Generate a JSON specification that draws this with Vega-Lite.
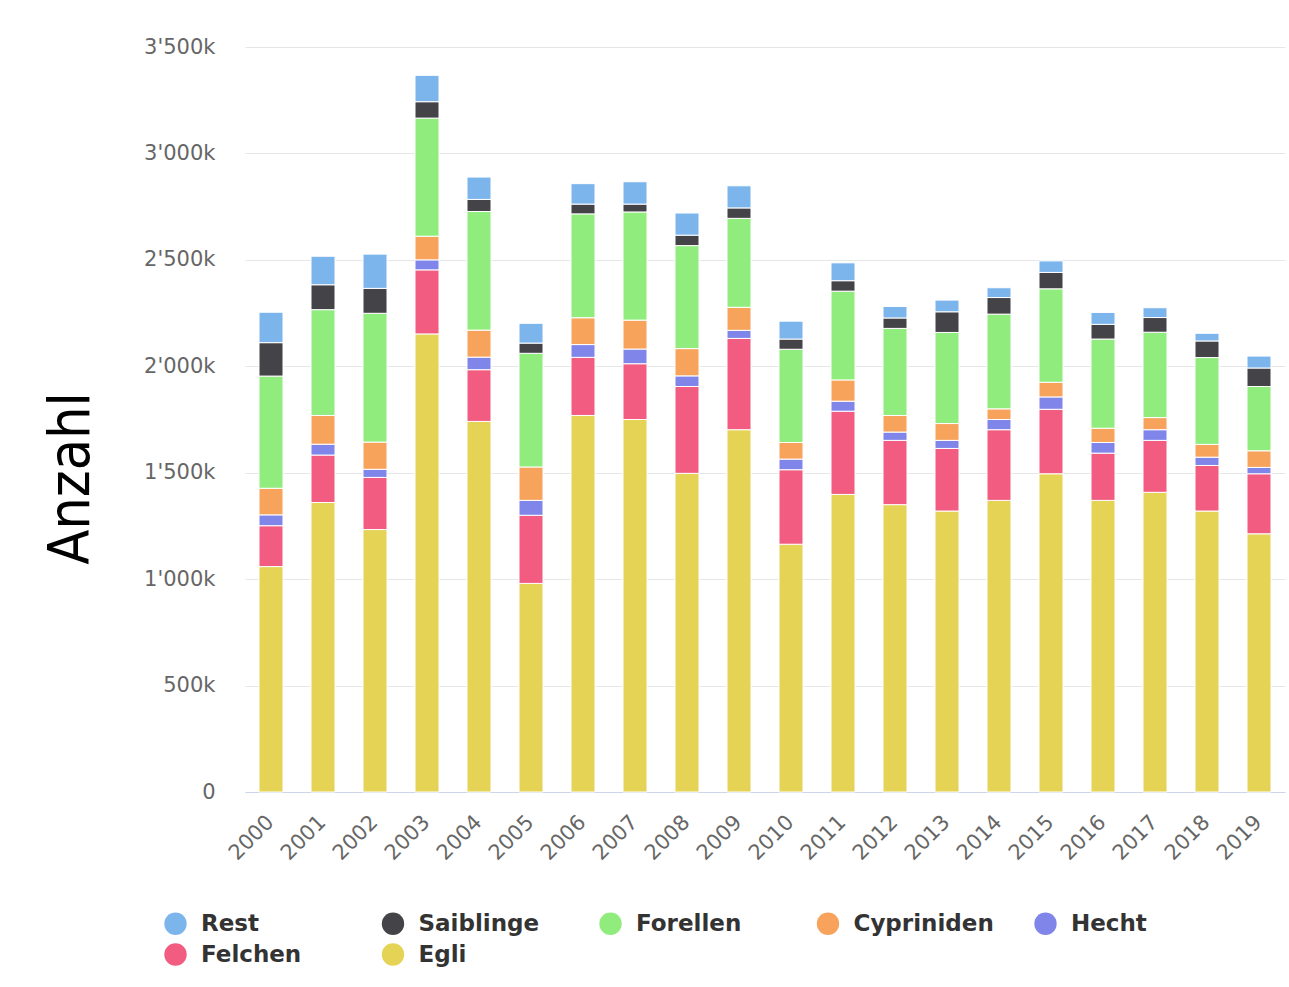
{
  "$schema": "https://vega.github.io/schema/vega-lite/v6.json",
  "width": 1040,
  "height": 745,
  "autosize": "none",
  "padding": {"left": 245, "top": 47, "right": 4, "bottom": 195},
  "background": "white",
  "config": {"view": {"stroke": null}},
  "data": {"values": [
    {"jahr":"2000","art":"Egli","anzahl":1059000},{"jahr":"2000","art":"Felchen","anzahl":192000},{"jahr":"2000","art":"Hecht","anzahl":51000},{"jahr":"2000","art":"Cypriniden","anzahl":125000},{"jahr":"2000","art":"Forellen","anzahl":527000},{"jahr":"2000","art":"Saiblinge","anzahl":157000},{"jahr":"2000","art":"Rest","anzahl":143000},
    {"jahr":"2001","art":"Egli","anzahl":1360000},{"jahr":"2001","art":"Felchen","anzahl":223000},{"jahr":"2001","art":"Hecht","anzahl":51000},{"jahr":"2001","art":"Cypriniden","anzahl":135000},{"jahr":"2001","art":"Forellen","anzahl":497000},{"jahr":"2001","art":"Saiblinge","anzahl":117000},{"jahr":"2001","art":"Rest","anzahl":134000},
    {"jahr":"2002","art":"Egli","anzahl":1233000},{"jahr":"2002","art":"Felchen","anzahl":245000},{"jahr":"2002","art":"Hecht","anzahl":38000},{"jahr":"2002","art":"Cypriniden","anzahl":128000},{"jahr":"2002","art":"Forellen","anzahl":605000},{"jahr":"2002","art":"Saiblinge","anzahl":117000},{"jahr":"2002","art":"Rest","anzahl":161000},
    {"jahr":"2003","art":"Egli","anzahl":2152000},{"jahr":"2003","art":"Felchen","anzahl":301000},{"jahr":"2003","art":"Hecht","anzahl":47000},{"jahr":"2003","art":"Cypriniden","anzahl":111000},{"jahr":"2003","art":"Forellen","anzahl":555000},{"jahr":"2003","art":"Saiblinge","anzahl":77000},{"jahr":"2003","art":"Rest","anzahl":124000},
    {"jahr":"2004","art":"Egli","anzahl":1741000},{"jahr":"2004","art":"Felchen","anzahl":243000},{"jahr":"2004","art":"Hecht","anzahl":59000},{"jahr":"2004","art":"Cypriniden","anzahl":127000},{"jahr":"2004","art":"Forellen","anzahl":557000},{"jahr":"2004","art":"Saiblinge","anzahl":57000},{"jahr":"2004","art":"Rest","anzahl":105000},
    {"jahr":"2005","art":"Egli","anzahl":980000},{"jahr":"2005","art":"Felchen","anzahl":320000},{"jahr":"2005","art":"Hecht","anzahl":70000},{"jahr":"2005","art":"Cypriniden","anzahl":157000},{"jahr":"2005","art":"Forellen","anzahl":534000},{"jahr":"2005","art":"Saiblinge","anzahl":48000},{"jahr":"2005","art":"Rest","anzahl":93000},
    {"jahr":"2006","art":"Egli","anzahl":1769000},{"jahr":"2006","art":"Felchen","anzahl":273000},{"jahr":"2006","art":"Hecht","anzahl":60000},{"jahr":"2006","art":"Cypriniden","anzahl":126000},{"jahr":"2006","art":"Forellen","anzahl":488000},{"jahr":"2006","art":"Saiblinge","anzahl":46000},{"jahr":"2006","art":"Rest","anzahl":96000},
    {"jahr":"2007","art":"Egli","anzahl":1750000},{"jahr":"2007","art":"Felchen","anzahl":262000},{"jahr":"2007","art":"Hecht","anzahl":69000},{"jahr":"2007","art":"Cypriniden","anzahl":136000},{"jahr":"2007","art":"Forellen","anzahl":508000},{"jahr":"2007","art":"Saiblinge","anzahl":37000},{"jahr":"2007","art":"Rest","anzahl":105000},
    {"jahr":"2008","art":"Egli","anzahl":1497000},{"jahr":"2008","art":"Felchen","anzahl":408000},{"jahr":"2008","art":"Hecht","anzahl":50000},{"jahr":"2008","art":"Cypriniden","anzahl":128000},{"jahr":"2008","art":"Forellen","anzahl":484000},{"jahr":"2008","art":"Saiblinge","anzahl":49000},{"jahr":"2008","art":"Rest","anzahl":104000},
    {"jahr":"2009","art":"Egli","anzahl":1702000},{"jahr":"2009","art":"Felchen","anzahl":429000},{"jahr":"2009","art":"Hecht","anzahl":38000},{"jahr":"2009","art":"Cypriniden","anzahl":108000},{"jahr":"2009","art":"Forellen","anzahl":418000},{"jahr":"2009","art":"Saiblinge","anzahl":49000},{"jahr":"2009","art":"Rest","anzahl":104000},
    {"jahr":"2010","art":"Egli","anzahl":1164000},{"jahr":"2010","art":"Felchen","anzahl":350000},{"jahr":"2010","art":"Hecht","anzahl":50000},{"jahr":"2010","art":"Cypriniden","anzahl":78000},{"jahr":"2010","art":"Forellen","anzahl":438000},{"jahr":"2010","art":"Saiblinge","anzahl":48000},{"jahr":"2010","art":"Rest","anzahl":84000},
    {"jahr":"2011","art":"Egli","anzahl":1398000},{"jahr":"2011","art":"Felchen","anzahl":391000},{"jahr":"2011","art":"Hecht","anzahl":47000},{"jahr":"2011","art":"Cypriniden","anzahl":100000},{"jahr":"2011","art":"Forellen","anzahl":417000},{"jahr":"2011","art":"Saiblinge","anzahl":49000},{"jahr":"2011","art":"Rest","anzahl":84000},
    {"jahr":"2012","art":"Egli","anzahl":1350000},{"jahr":"2012","art":"Felchen","anzahl":302000},{"jahr":"2012","art":"Hecht","anzahl":39000},{"jahr":"2012","art":"Cypriniden","anzahl":78000},{"jahr":"2012","art":"Forellen","anzahl":409000},{"jahr":"2012","art":"Saiblinge","anzahl":49000},{"jahr":"2012","art":"Rest","anzahl":54000},
    {"jahr":"2013","art":"Egli","anzahl":1320000},{"jahr":"2013","art":"Felchen","anzahl":294000},{"jahr":"2013","art":"Hecht","anzahl":38000},{"jahr":"2013","art":"Cypriniden","anzahl":79000},{"jahr":"2013","art":"Forellen","anzahl":428000},{"jahr":"2013","art":"Saiblinge","anzahl":97000},{"jahr":"2013","art":"Rest","anzahl":55000},
    {"jahr":"2014","art":"Egli","anzahl":1370000},{"jahr":"2014","art":"Felchen","anzahl":332000},{"jahr":"2014","art":"Hecht","anzahl":48000},{"jahr":"2014","art":"Cypriniden","anzahl":50000},{"jahr":"2014","art":"Forellen","anzahl":445000},{"jahr":"2014","art":"Saiblinge","anzahl":78000},{"jahr":"2014","art":"Rest","anzahl":46000},
    {"jahr":"2015","art":"Egli","anzahl":1495000},{"jahr":"2015","art":"Felchen","anzahl":303000},{"jahr":"2015","art":"Hecht","anzahl":58000},{"jahr":"2015","art":"Cypriniden","anzahl":69000},{"jahr":"2015","art":"Forellen","anzahl":439000},{"jahr":"2015","art":"Saiblinge","anzahl":77000},{"jahr":"2015","art":"Rest","anzahl":54000},
    {"jahr":"2016","art":"Egli","anzahl":1370000},{"jahr":"2016","art":"Felchen","anzahl":222000},{"jahr":"2016","art":"Hecht","anzahl":50000},{"jahr":"2016","art":"Cypriniden","anzahl":67000},{"jahr":"2016","art":"Forellen","anzahl":419000},{"jahr":"2016","art":"Saiblinge","anzahl":69000},{"jahr":"2016","art":"Rest","anzahl":56000},
    {"jahr":"2017","art":"Egli","anzahl":1408000},{"jahr":"2017","art":"Felchen","anzahl":244000},{"jahr":"2017","art":"Hecht","anzahl":50000},{"jahr":"2017","art":"Cypriniden","anzahl":57000},{"jahr":"2017","art":"Forellen","anzahl":401000},{"jahr":"2017","art":"Saiblinge","anzahl":69000},{"jahr":"2017","art":"Rest","anzahl":46000},
    {"jahr":"2018","art":"Egli","anzahl":1320000},{"jahr":"2018","art":"Felchen","anzahl":214000},{"jahr":"2018","art":"Hecht","anzahl":39000},{"jahr":"2018","art":"Cypriniden","anzahl":60000},{"jahr":"2018","art":"Forellen","anzahl":408000},{"jahr":"2018","art":"Saiblinge","anzahl":78000},{"jahr":"2018","art":"Rest","anzahl":36000},
    {"jahr":"2019","art":"Egli","anzahl":1213000},{"jahr":"2019","art":"Felchen","anzahl":282000},{"jahr":"2019","art":"Hecht","anzahl":30000},{"jahr":"2019","art":"Cypriniden","anzahl":78000},{"jahr":"2019","art":"Forellen","anzahl":302000},{"jahr":"2019","art":"Saiblinge","anzahl":87000},{"jahr":"2019","art":"Rest","anzahl":56000}
  ]},
  "transform": [
    {"calculate": "indexof(['Egli','Felchen','Hecht','Cypriniden','Forellen','Saiblinge','Rest'], datum.art)", "as": "stapel"}
  ],
  "mark": {"type": "bar", "width": 24, "stroke": "white", "strokeWidth": 1},
  "encoding": {
    "x": {
      "field": "jahr", "type": "ordinal",
      "scale": {"paddingInner": 0, "paddingOuter": 0},
      "axis": {
        "title": null, "labelAngle": -45, "labelFont": "DejaVu Sans", "labelFontSize": 21,
        "labelColor": "#666666", "ticks": false, "labelPadding": 19, "labelOffset": -8,
        "domainColor": "#ccd6eb", "domainWidth": 1, "grid": false
      }
    },
    "y": {
      "field": "anzahl", "type": "quantitative", "stack": "zero",
      "scale": {"domain": [0, 3500000], "nice": false},
      "axis": {
        "title": "Anzahl", "titleFont": "Liberation Sans Narrow, DejaVu Sans Condensed", "titleFontSize": 57,
        "titleFontWeight": "normal", "titleColor": "#000000", "titleAngle": -90,
        "titleX": -174, "titleY": 431, "titleAlign": "center", "titleBaseline": "middle",
        "values": [0, 500000, 1000000, 1500000, 2000000, 2500000, 3000000, 3500000],
        "labelExpr": "datum.value == 0 ? '0' : replace(format(datum.value / 1000, ','), ',', \"'\") + 'k'",
        "labelFont": "DejaVu Sans", "labelFontSize": 21, "labelColor": "#666666",
        "labelPadding": 30, "ticks": false, "domain": false,
        "gridColor": "#e6e6e6", "gridWidth": 1
      }
    },
    "color": {
      "field": "art", "type": "nominal",
      "scale": {
        "domain": ["Rest", "Saiblinge", "Forellen", "Cypriniden", "Hecht", "Felchen", "Egli"],
        "range": ["#7cb5ec", "#434348", "#90ed7d", "#f7a35c", "#8085e9", "#f15c80", "#e4d354"]
      },
      "legend": {
        "title": null, "orient": "none", "legendX": -81, "legendY": 865,
        "direction": "horizontal", "columns": 5, "gridAlign": "all",
        "symbolType": "circle", "symbolSize": 500, "symbolStrokeWidth": 0,
        "labelFont": "DejaVu Sans", "labelFontSize": 23, "labelFontWeight": "bold", "labelColor": "#333333",
        "labelOffset": 14, "columnPadding": 39.5, "rowPadding": 7, "labelLimit": 400
      }
    },
    "order": {"field": "stapel", "type": "quantitative", "sort": "ascending"}
  }
}
